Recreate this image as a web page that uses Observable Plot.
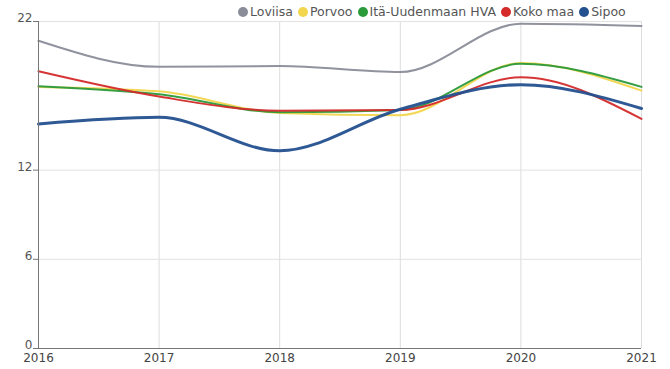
<!DOCTYPE html>
<html><head><meta charset="utf-8">
<script src="https://cdn.jsdelivr.net/npm/d3@7"></script>
<script src="https://cdn.jsdelivr.net/npm/@observablehq/plot@0.6"></script>
<style>
body{margin:0;background:#fff;font-family:"DejaVu Sans",sans-serif;}
#wrap{position:relative;width:670px;height:369px;}
#legend{position:absolute;top:4px;left:238px;display:flex;font-size:12.5px;color:#555;white-space:nowrap;align-items:center;}
#legend span.item{display:flex;align-items:center;margin-right:5px;}
#legend span.dot{display:inline-block;width:10px;height:10px;border-radius:50%;margin-right:2px;}
</style></head>
<body><div id="wrap"><div id="legend"></div><div id="chart"></div></div>
<script>
const years = [2016, 2017, 2018, 2019, 2020, 2021];
const seriesNames = ["Loviisa", "Porvoo", "Itä-Uudenmaan HVA", "Koko maa", "Sipoo"];
const loviisa = [20.7, 18.95, 19.0, 18.6, 21.85, 21.7];
const porvoo  = [17.6, 17.3, 15.85, 15.7, 19.2, 17.35];
const ita     = [17.65, 17.1, 15.9, 16.05, 19.15, 17.6];
const kokoMaa = [18.65, 16.95, 16.0, 16.05, 18.25, 15.45];
const sipoo   = [15.1, 15.55, 13.3, 16.1, 17.75, 16.15];
const colors = ["#8a8d99", "#f2d64e", "#2b9a3b", "#d42a2a", "#23508f"];
const widths = [2, 2, 2, 2, 3];
const yTicks = [0, 6, 12, 22];

const valuesBySeries = [loviisa, porvoo, ita, kokoMaa, sipoo];
const data = [];
seriesNames.forEach((s, i) => years.forEach((y, j) => data.push({series: s, year: y, value: valuesBySeries[i][j]})));

const lineMarks = seriesNames.map((s, i) => Plot.line(data.filter(d => d.series === s), {
  x: "year", y: "value", stroke: colors[i], strokeWidth: widths[i], curve: "monotone-x", strokeOpacity: 0.95
}));

const chart = Plot.plot({
  width: 670, height: 369,
  marginTop: 21, marginBottom: 21, marginLeft: 38, marginRight: 29,
  style: {fontFamily: "DejaVu Sans, sans-serif", fontSize: "12px", color: "#444", background: "#fff"},
  x: {domain: [2016, 2021]},
  y: {domain: [0, 22]},
  marks: [
    Plot.gridX(years, {stroke: "#ddd", strokeOpacity: 1}),
    Plot.gridY(yTicks, {stroke: "#e2e2e2", strokeOpacity: 1}),
    ...lineMarks,
    Plot.ruleX([2016], {stroke: "#777"}),
    Plot.ruleY([0], {stroke: "#777"}),
    Plot.axisY(yTicks, {tickSize: 5, text: null, stroke: "#777", label: null}),
    Plot.axisY(yTicks, {tickSize: 0, tickPadding: 6, fill: "#555", label: null, dy: -3}),
    Plot.axisX(years, {tickSize: 0, tickPadding: 5, tickFormat: "d", fill: "#444", label: null})
  ]
});
document.getElementById("chart").appendChild(chart);

const legend = document.getElementById("legend");
seriesNames.forEach((s, i) => {
  const item = document.createElement("span"); item.className = "item";
  const dot = document.createElement("span"); dot.className = "dot"; dot.style.background = colors[i];
  item.appendChild(dot); item.appendChild(document.createTextNode(s));
  legend.appendChild(item);
});
</script></body></html>
